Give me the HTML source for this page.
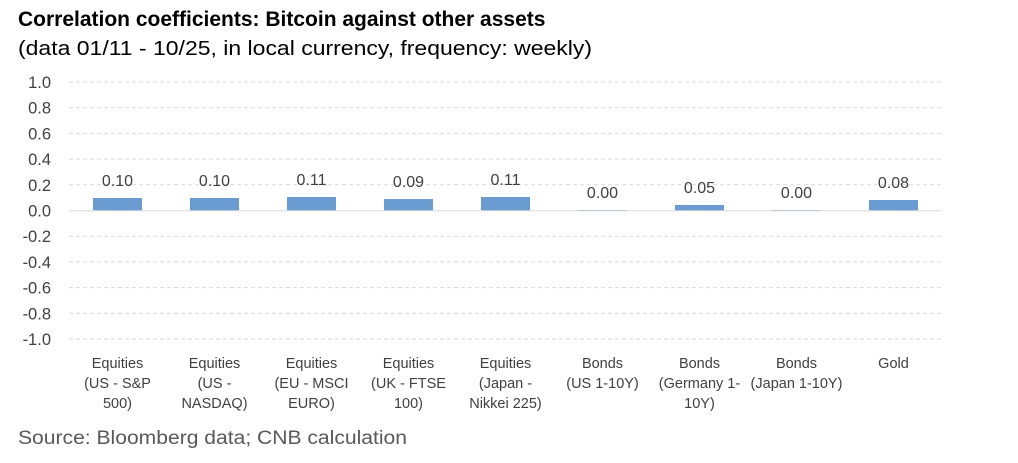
<!DOCTYPE html>
<html><head><meta charset="utf-8"><style>
body{margin:0;background:#fff;width:1018px;height:458px;overflow:hidden;font-family:"Liberation Sans",sans-serif}
</style></head><body>
<svg width="1018" height="458" xmlns="http://www.w3.org/2000/svg" font-family="Liberation Sans, sans-serif">
<text x="18" y="26" font-size="21" font-weight="bold" fill="#000">Correlation coefficients: Bitcoin against other assets</text>
<text x="18" y="55" font-size="20" fill="#000" textLength="574" lengthAdjust="spacingAndGlyphs">(data 01/11 - 10/25, in local currency, frequency: weekly)</text>
<g stroke="#d9d9d9" stroke-width="1" stroke-dasharray="4,3">
<line x1="69" x2="942" y1="82" y2="82"/><line x1="69" x2="942" y1="107.7" y2="107.7"/><line x1="69" x2="942" y1="133.4" y2="133.4"/><line x1="69" x2="942" y1="159.1" y2="159.1"/><line x1="69" x2="942" y1="184.8" y2="184.8"/>
<line x1="69" x2="942" y1="236.2" y2="236.2"/><line x1="69" x2="942" y1="261.9" y2="261.9"/><line x1="69" x2="942" y1="287.6" y2="287.6"/><line x1="69" x2="942" y1="313.3" y2="313.3"/><line x1="69" x2="942" y1="339" y2="339"/>
</g>
<g font-size="16.5" fill="#404040" text-anchor="end">
<text x="51" y="88">1.0</text><text x="51" y="113.7">0.8</text><text x="51" y="139.4">0.6</text><text x="51" y="165.1">0.4</text><text x="51" y="190.8">0.2</text><text x="51" y="216.5">0.0</text><text x="51" y="242.2">-0.2</text><text x="51" y="267.9">-0.4</text><text x="51" y="293.6">-0.6</text><text x="51" y="319.3">-0.8</text><text x="51" y="345">-1.0</text>
</g>
<g fill="#6a9bd1">
<rect x="93" y="198" width="49" height="12.5"/>
<rect x="190" y="198" width="49" height="12.5"/>
<rect x="287" y="197" width="49" height="13.5"/>
<rect x="384" y="199" width="49" height="11.5"/>
<rect x="481" y="197" width="49" height="13.5"/>
<rect x="578" y="210" width="49" height="1"/>
<rect x="675" y="205" width="49" height="5.5"/>
<rect x="772" y="210" width="49" height="1"/>
<rect x="869" y="200" width="49" height="10.5"/>
</g>
<line x1="69" x2="942" y1="210.7" y2="210.7" stroke="#d9d9d9" stroke-width="1"/>
<g font-size="16" fill="#404040" text-anchor="middle">
<text x="117.5" y="186">0.10</text><text x="214.5" y="186">0.10</text><text x="311.5" y="185">0.11</text><text x="408.5" y="187">0.09</text><text x="505.5" y="185">0.11</text><text x="602.5" y="198">0.00</text><text x="699.5" y="193">0.05</text><text x="796.5" y="198">0.00</text><text x="893.5" y="188">0.08</text>
</g>
<g font-size="14.5" fill="#404040" text-anchor="middle">
<text x="117.5" y="368">Equities</text><text x="117.5" y="388">(US - S&amp;P</text><text x="117.5" y="408">500)</text>
<text x="214.5" y="368">Equities</text><text x="214.5" y="388">(US -</text><text x="214.5" y="408">NASDAQ)</text>
<text x="311.5" y="368">Equities</text><text x="311.5" y="388">(EU - MSCI</text><text x="311.5" y="408">EURO)</text>
<text x="408.5" y="368">Equities</text><text x="408.5" y="388">(UK - FTSE</text><text x="408.5" y="408">100)</text>
<text x="505.5" y="368">Equities</text><text x="505.5" y="388">(Japan  -</text><text x="505.5" y="408">Nikkei 225)</text>
<text x="602.5" y="368">Bonds</text><text x="602.5" y="388">(US 1-10Y)</text>
<text x="699.5" y="368">Bonds</text><text x="699.5" y="388">(Germany 1-</text><text x="699.5" y="408">10Y)</text>
<text x="796.5" y="368">Bonds</text><text x="796.5" y="388">(Japan 1-10Y)</text>
<text x="893.5" y="368">Gold</text>
</g>
<text x="18" y="444" font-size="19" fill="#595959" textLength="389" lengthAdjust="spacingAndGlyphs">Source: Bloomberg data; CNB calculation</text>
</svg>
</body></html>
